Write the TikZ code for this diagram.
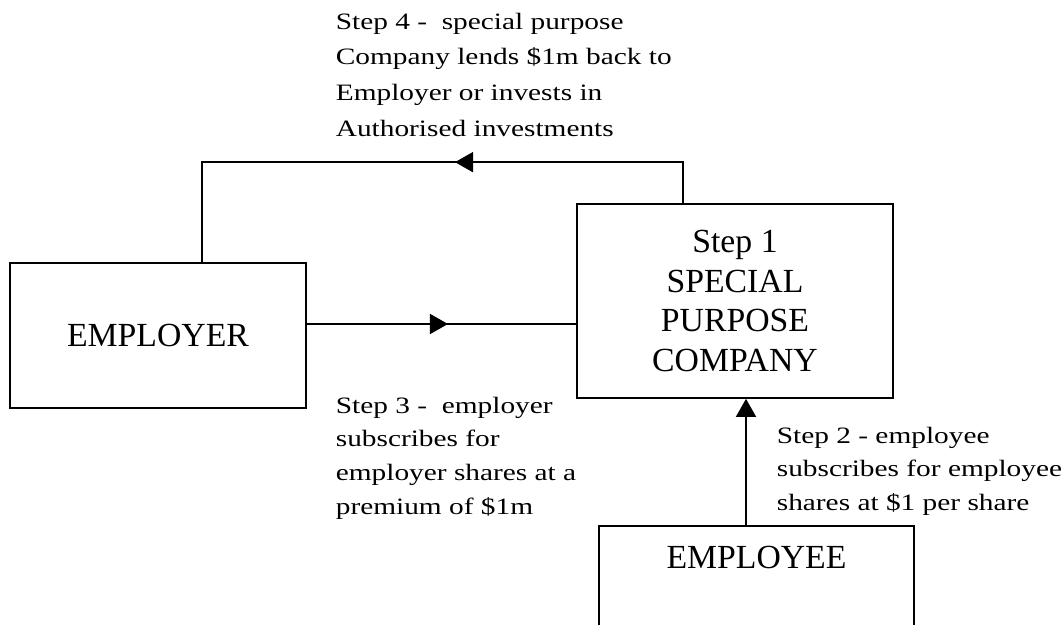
\documentclass[tikz,border=0pt]{standalone}
\usepackage{fontspec}
\setmainfont{Liberation Serif}
\newfontfamily\notefont{Liberation Serif}[FakeStretch=1.25]
\usetikzlibrary{arrows.meta,decorations.markings}

\begin{document}
\begin{tikzpicture}[line width=1.2pt,
  box/.style={draw,minimum width=7.4cm,minimum height=3.625cm,align=center,font=\fontsize{24}{28.4}\selectfont},
  note/.style={anchor=north west,inner sep=0pt,align=left,font=\notefont\fontsize{16.7}{24}\selectfont},
  stepTip/.tip={Triangle[length=0.45cm,width=0.5cm]},
  midarrow/.style={postaction={decorate},decoration={markings,mark=at position #1 with {\arrow{stepTip}}}}]
\useasboundingbox (0,0) rectangle (26.575,-15.625);
\clip (0,0) rectangle (26.575,-15.625);
\node[box] (emp) at (3.95,-8.3875) {EMPLOYER};
\node[box,minimum width=7.9cm,minimum height=4.85cm] (spc) at (18.375,-7.525) {Step 1\\SPECIAL\\PURPOSE\\COMPANY};
\node[box,anchor=north,minimum width=7.875cm,minimum height=0pt,text height=0.6cm,text depth=3cm,inner ysep=0.475cm] (empl) at (18.9125,-13.125) {EMPLOYEE};
\draw[midarrow=0.524] ([yshift=2.875mm]emp.east) -- ([yshift=2.875mm]emp.east -| spc.west);
\draw[midarrow=6.725cm] ([xshift=-1.3cm]spc.north) -- ++(0,1.025) -| ([xshift=1.1cm]emp.north);
\draw[-stepTip] ([xshift=-0.2625cm]empl.north) -- ([xshift=-0.2625cm]empl.north |- spc.south);
\node[note,font=\notefont\fontsize{16.7}{25.5}\selectfont] (step4) at (8.375,-0.3) {Step 4 -\ \ special purpose\\Company lends \$1m back to\\Employer or invests in\\Authorised investments};
\node[note] (step3) at (8.375,-9.9) {Step 3 -\ \ employer\\subscribes for\\employer shares at a\\premium of \$1m};
\node[note] (step2) at (19.4,-10.65) {Step 2 - employee\\subscribes for employee\\shares at \$1 per share};
\end{tikzpicture}
\end{document}
